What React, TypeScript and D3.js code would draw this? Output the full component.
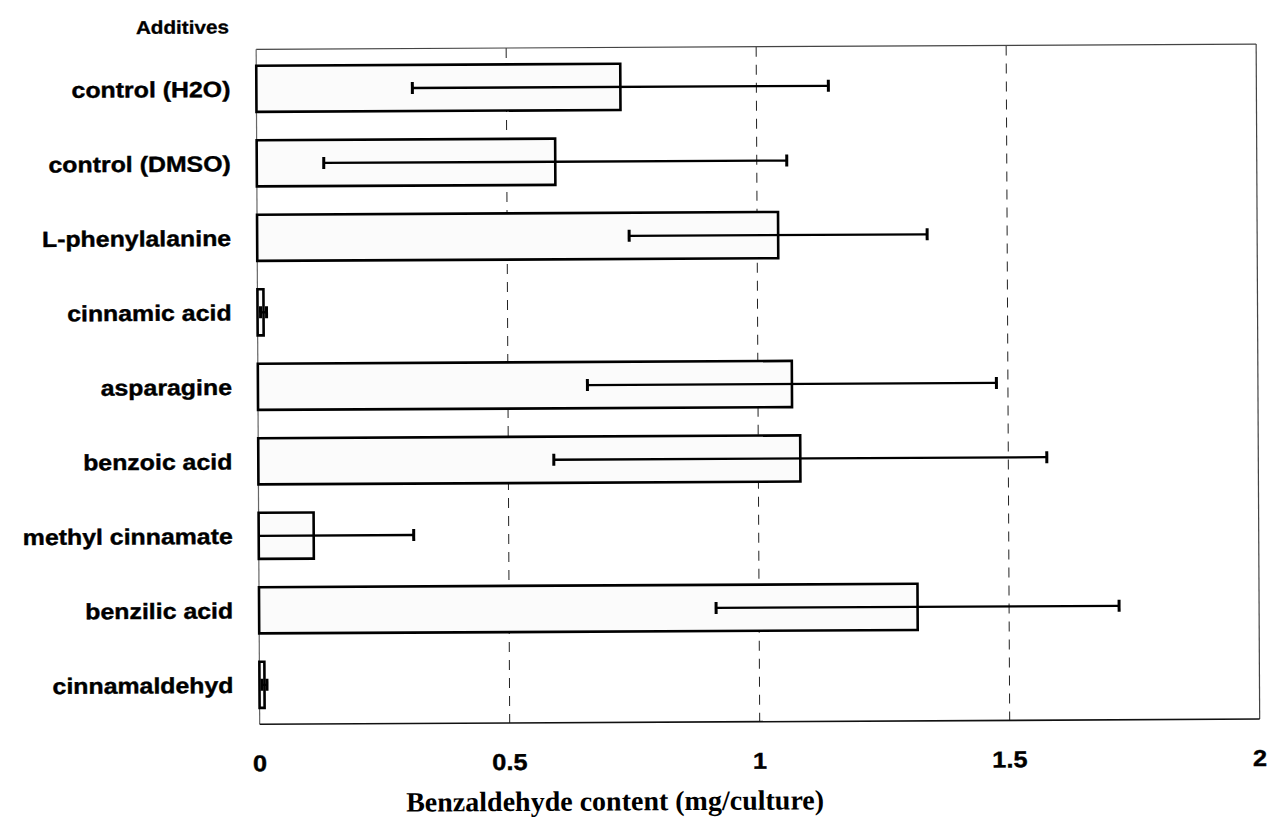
import React from "react";
import * as d3 from "d3";

// Benzaldehyde content per culture for each additive (mean ± SD, mg/culture)
const additives: string[] = [
  "control (H2O)",
  "control (DMSO)",
  "L-phenylalanine",
  "cinnamic acid",
  "asparagine",
  "benzoic acid",
  "methyl cinnamate",
  "benzilic acid",
  "cinnamaldehyd",
];
const means: number[] = [0.728, 0.597, 1.042, 0.012, 1.068, 1.084, 0.11, 1.317, 0.01];
const sds: number[] = [0.416, 0.463, 0.298, 0.006, 0.409, 0.493, 0.2, 0.403, 0.005];
const xTicks: number[] = [0, 0.5, 1, 1.5, 2];
const xTickLabels: string[] = ["0", "0.5", "1", "1.5", "2"];
const gridValues: number[] = [0.5, 1, 1.5];

const W = 1268;
const H = 817;
const plot = { left: 258, right: 1258, top: 47, bottom: 722 };

const sansBold = "'Liberation Sans', Arial, sans-serif";
const serifBold = "'Liberation Serif', 'Times New Roman', serif";

export default function App() {
  const x = d3.scaleLinear().domain([0, 2]).range([plot.left, plot.right]);
  const y = d3
    .scaleBand<string>()
    .domain(additives)
    .range([plot.top, plot.bottom])
    .paddingInner(0.38)
    .paddingOuter(0.22);
  const bw = y.bandwidth();
  const capH = 12;

  return (
    <svg
      width={W}
      height={H}
      style={{ position: "absolute", left: 0, top: 0, background: "#fff" }}
    >
      <g transform="rotate(-0.3 700 400)">
        {/* dashed vertical gridlines */}
        {gridValues.map((v) => (
          <line
            key={"g" + v}
            x1={x(v)}
            x2={x(v)}
            y1={plot.top}
            y2={plot.bottom}
            stroke="#222"
            strokeWidth={1}
            strokeDasharray="10,8"
          />
        ))}

        {/* frame */}
        <line x1={plot.left} x2={plot.right} y1={plot.top} y2={plot.top} stroke="#444" strokeWidth={1.2} />
        <line x1={plot.right} x2={plot.right} y1={plot.top} y2={plot.bottom} stroke="#444" strokeWidth={1.2} />
        <line x1={plot.left} x2={plot.left} y1={plot.top} y2={plot.bottom} stroke="#666" strokeWidth={1.2} />
        <line x1={plot.left} x2={plot.right} y1={plot.bottom} y2={plot.bottom} stroke="#111" strokeWidth={1.6} />

        {/* bars */}
        {additives.map((name, i) => {
          const y0 = y(name) as number;
          return (
            <rect
              key={"b" + name}
              x={x(0)}
              y={y0}
              width={Math.max(0, x(means[i]) - x(0))}
              height={bw}
              fill="#fbfbfb"
              stroke="#000"
              strokeWidth={2.6}
            />
          );
        })}

        {/* error bars: mean ± SD, clipped at zero */}
        {additives.map((name, i) => {
          const cy = (y(name) as number) + bw / 2;
          const lo = means[i] - sds[i];
          const hi = means[i] + sds[i];
          const xl = x(Math.max(0, lo));
          const xh = x(hi);
          return (
            <g key={"e" + name} stroke="#000">
              <line x1={xl} x2={xh} y1={cy} y2={cy} strokeWidth={2.3} />
              {lo > 0 && (
                <line x1={xl} x2={xl} y1={cy - capH / 2} y2={cy + capH / 2} strokeWidth={3} />
              )}
              <line x1={xh} x2={xh} y1={cy - capH / 2} y2={cy + capH / 2} strokeWidth={3} />
            </g>
          );
        })}

        {/* category labels */}
        <text
          transform="translate(231,31) scale(1.12,1)"
          textAnchor="end"
          fontFamily={sansBold}
          fontWeight="bold"
          fontSize={18.5}
          fill="#000"
          stroke="#000"
          strokeWidth={0.3}
        >
          Additives
        </text>
        {additives.map((name) => {
          const cy = (y(name) as number) + bw / 2;
          return (
            <text
              key={"l" + name}
              transform={`translate(232,${cy + 8}) scale(1.13,1)`}
              textAnchor="end"
              fontFamily={sansBold}
              fontWeight="bold"
              fontSize={22}
              fill="#000"
              stroke="#000"
              strokeWidth={0.4}
            >
              {name}
            </text>
          );
        })}

        {/* x tick labels */}
        {xTicks.map((v, i) => (
          <text
            key={"t" + v}
            transform={`translate(${x(v)},${plot.bottom + 47}) scale(1.1,1)`}
            textAnchor="middle"
            fontFamily={sansBold}
            fontWeight="bold"
            fontSize={23}
            fill="#000"
            stroke="#000"
            strokeWidth={0.4}
          >
            {xTickLabels[i]}
          </text>
        ))}

        {/* x axis title */}
        <text
          x={613}
          y={plot.bottom + 88}
          textAnchor="middle"
          fontFamily={serifBold}
          fontWeight="bold"
          fontSize={28}
          fill="#000"
        >
          Benzaldehyde content (mg/culture)
        </text>
      </g>
    </svg>
  );
}
